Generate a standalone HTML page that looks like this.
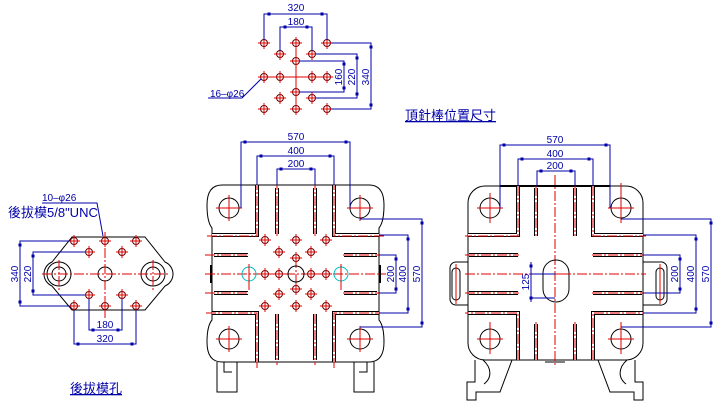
<!DOCTYPE html>
<html><head><meta charset="utf-8"><style>
html,body{margin:0;padding:0;background:#fff;width:721px;height:412px;overflow:hidden}
svg{display:block}
.b{stroke:#0000a8;fill:none;stroke-width:1}
.k{stroke:#000;fill:none;stroke-width:1}
.r{stroke:#e00000;fill:none;stroke-width:1}
.rd{stroke:#e00000;fill:none;stroke-width:1;stroke-dasharray:10,2,2,2}
.t{font-family:"Liberation Sans Narrow","Liberation Sans",sans-serif;font-size:10px;fill:#0000a8}
.c{font-family:"Liberation Sans","Noto Sans CJK TC",sans-serif;fill:#0000a8}
.s1{stroke:#000;stroke-width:4;fill:none}
.s2{stroke:#fff;stroke-width:2;fill:none}
</style></head><body>
<svg width="721" height="412" viewBox="0 0 721 412" xmlns="http://www.w3.org/2000/svg">
<defs>
<g id="h"><circle r="3.5" fill="none" stroke="#600"/><path d="M-6,0H6M0,-6V6" stroke="#e00000"/></g>
<rect id="m" x="-1.5" y="-1.5" width="3" height="3" fill="#0000a8"/>
</defs>

<!-- TOP PATTERN -->
<path class="r" d="M296,43V109M264,77H327"/>
<g>
<use href="#h" x="264" y="43"/><use href="#h" x="296" y="43"/><use href="#h" x="327" y="43"/>
<use href="#h" x="280" y="54"/><use href="#h" x="312" y="54"/><use href="#h" x="296" y="61"/>
<use href="#h" x="264" y="77"/><use href="#h" x="280" y="77"/><use href="#h" x="312" y="77"/><use href="#h" x="327" y="77"/>
<use href="#h" x="296" y="92"/><use href="#h" x="280" y="98"/><use href="#h" x="312" y="98"/>
<use href="#h" x="264" y="109"/><use href="#h" x="296" y="109"/><use href="#h" x="327" y="109"/>
</g>
<path class="b" d="M264,40V14H327V40M280,51V27H312V51"/>
<use href="#m" x="269" y="14"/><use href="#m" x="322" y="14"/><use href="#m" x="285" y="27"/><use href="#m" x="307" y="27"/>
<text class="t" x="296" y="11" text-anchor="middle">320</text>
<text class="t" x="296" y="25" text-anchor="middle">180</text>
<path class="b" d="M300,61H344V92H300M316,54H357V98H316M331,43H371V109H331"/>
<use href="#m" x="344" y="64"/><use href="#m" x="344" y="88"/><use href="#m" x="357" y="58"/><use href="#m" x="357" y="94"/><use href="#m" x="371" y="47"/><use href="#m" x="371" y="105"/>
<text class="t" transform="translate(342,77) rotate(-90)" text-anchor="middle">160</text>
<text class="t" transform="translate(355,77) rotate(-90)" text-anchor="middle">220</text>
<text class="t" transform="translate(369,77) rotate(-90)" text-anchor="middle">340</text>
<path class="b" d="M261,79L242,98H208"/>
<text class="t" x="210" y="97">16–φ26</text>
<text class="c" x="405" y="120" font-size="13" text-decoration="underline">頂針棒位置尺寸</text>

<!-- LEFT PATTERN -->
<path class="k" d="M72,237H145L165,262A13,13 0 0 1 165,286L145,310H72L52,286A13,13 0 0 1 52,262Z"/>
<circle class="k" cx="59" cy="274" r="12"/><circle class="k" cx="59" cy="274" r="7"/>
<circle class="k" cx="153" cy="274" r="12"/><circle class="k" cx="153" cy="274" r="7"/>
<circle class="k" cx="105" cy="274" r="7"/>
<path class="rd" d="M42,274H168M105,232V318M59,260V290M153,260V290"/>
<use href="#h" x="74" y="241"/><use href="#h" x="105" y="241"/><use href="#h" x="136" y="241"/>
<use href="#h" x="89" y="252"/><use href="#h" x="122" y="252"/>
<use href="#h" x="89" y="295"/><use href="#h" x="122" y="295"/>
<use href="#h" x="74" y="306"/><use href="#h" x="105" y="306"/><use href="#h" x="136" y="306"/>
<path class="b" d="M70,241H20V306H70M85,252H33V295H85M89,299V330H122V299M74,310V344H136V310"/>
<use href="#m" x="20" y="245"/><use href="#m" x="20" y="302"/><use href="#m" x="33" y="256"/><use href="#m" x="33" y="291"/>
<use href="#m" x="93" y="330"/><use href="#m" x="118" y="330"/><use href="#m" x="78" y="344"/><use href="#m" x="132" y="344"/>
<text class="t" transform="translate(18,274) rotate(-90)" text-anchor="middle">340</text>
<text class="t" transform="translate(31,274) rotate(-90)" text-anchor="middle">220</text>
<text class="t" x="105" y="328" text-anchor="middle">180</text>
<text class="t" x="105" y="342" text-anchor="middle">320</text>
<path class="b" d="M42,203H97L103,236"/>
<text class="t" x="42" y="201">10–φ26</text>
<text class="c" x="8" y="217" font-size="13">後拔模5/8"UNC</text>
<text class="c" x="70" y="393" font-size="13" text-decoration="underline">後拔模孔</text>

<!-- MIDDLE PLATE -->
<path class="k" d="M222,185H369Q384,185 384,205Q384,222 379,228V320Q384,326 384,342Q384,362 369,362H222Q207,362 207,342Q207,326 212,320V228Q207,222 207,205Q207,185 222,185Z"/>
<path stroke="#000" stroke-width="2" d="M211,265V283M380,265V283"/>
<g>
<path class="s1" d="M257,185V235H212M334,185V235H379M257,362V313H212M334,362V313H379M277,188V234M315,188V234M277,314V360M315,314V360M214,255H248M344,255H377M214,293H248M344,293H377"/>
<path class="s2" d="M257,185V235H212M334,185V235H379M257,362V313H212M334,362V313H379M277,188V234M315,188V234M277,314V360M315,314V360M214,255H248M344,255H377M214,293H248M344,293H377"/>
</g>
<path class="rd" d="M257,180V236H205M334,180V236H386M257,368V313H205M334,368V313H386M277,180V236M315,180V236M277,314V365M315,314V365M205,255H249M343,255H386M205,293H249M343,293H386M205,274H386M296,258V290"/>
<g>
<circle class="k" cx="229" cy="208" r="10"/><circle class="k" cx="360" cy="208" r="10"/><circle class="k" cx="229" cy="339" r="10"/><circle class="k" cx="360" cy="339" r="10"/>
<path class="r" d="M216,208H242M229,195V221M347,208H373M360,195V221M216,339H242M229,326V352M347,339H373M360,326V352"/>
</g>
<circle class="k" cx="296" cy="274" r="8"/>
<circle fill="none" stroke="#00c0c0" cx="249" cy="274" r="7"/><circle fill="none" stroke="#00c0c0" cx="341" cy="274" r="7"/>
<path class="r" d="M249,264V290M341,264V290"/>
<use href="#h" x="265" y="240"/><use href="#h" x="296" y="240"/><use href="#h" x="326" y="240"/>
<use href="#h" x="279" y="252"/><use href="#h" x="311" y="252"/><use href="#h" x="296" y="258"/>
<use href="#h" x="265" y="274"/><use href="#h" x="279" y="274"/><use href="#h" x="311" y="274"/><use href="#h" x="326" y="274"/>
<use href="#h" x="296" y="289"/><use href="#h" x="279" y="294"/><use href="#h" x="311" y="294"/>
<use href="#h" x="265" y="306"/><use href="#h" x="296" y="306"/><use href="#h" x="326" y="306"/>
<path class="k" d="M217,362V392H237V362M224,362V372H232M354,362V392H374V362M359,372H367V362"/>
<path class="b" d="M241,208V142H350V208M257,185V156H334V185M277,185V169H315V185"/>
<use href="#m" x="245" y="142"/><use href="#m" x="346" y="142"/><use href="#m" x="261" y="156"/><use href="#m" x="330" y="156"/><use href="#m" x="281" y="169"/><use href="#m" x="311" y="169"/>
<text class="t" x="296" y="140" text-anchor="middle">570</text>
<text class="t" x="296" y="154" text-anchor="middle">400</text>
<text class="t" x="296" y="167" text-anchor="middle">200</text>
<path class="b" d="M360,219H422V327H360M379,235H408V313H379M379,255H396V293H379"/>
<use href="#m" x="422" y="223"/><use href="#m" x="422" y="323"/><use href="#m" x="408" y="239"/><use href="#m" x="408" y="309"/><use href="#m" x="396" y="259"/><use href="#m" x="396" y="289"/>
<text class="t" transform="translate(420,274) rotate(-90)" text-anchor="middle">570</text>
<text class="t" transform="translate(406,274) rotate(-90)" text-anchor="middle">400</text>
<text class="t" transform="translate(394,274) rotate(-90)" text-anchor="middle">200</text>

<!-- RIGHT PLATE -->
<path class="k" d="M485,186H626A17,17 0 0 1 643,203V343A17,17 0 0 1 626,360H485A17,17 0 0 1 468,343V203A17,17 0 0 1 485,186Z"/>
<path stroke="#000" stroke-width="2" d="M500,186H610"/>
<path class="k" d="M468,262H456A6,6 0 0 0 450,268V299A6,6 0 0 0 456,305H468M643,262H660A6,6 0 0 1 667,268V299A6,6 0 0 1 660,305H643"/>
<rect class="k" x="452" y="268" width="8" height="32" rx="4"/><rect class="k" x="656" y="268" width="8" height="32" rx="4"/>
<path class="r" d="M456,264V304M660,264V304"/>
<g>
<path class="s1" d="M518,186V235H468M593,186V235H643M518,360V313H468M593,360V313H643M536,188V236M575,188V236M536,324V360M575,324V360M469,255H518M593,255H642M469,293H518M593,293H642"/>
<path class="s2" d="M518,186V235H468M593,186V235H643M518,360V313H468M593,360V313H643M536,188V236M575,188V236M536,324V360M575,324V360M469,255H518M593,255H642M469,293H518M593,293H642"/>
</g>
<path class="rd" d="M518,186V236H465M593,186V236H646M518,360V313H465M593,360V313H646M536,186V236M575,186V236M536,322V360M575,322V360M465,255H519M592,255H646M465,293H519M592,293H646M465,274H646M555,175V365"/>
<rect class="k" x="543" y="260" width="26" height="42" rx="13"/>
<path class="r" d="M530,274H570"/>
<g>
<circle class="k" cx="490" cy="208" r="10"/><circle class="k" cx="621" cy="208" r="10"/><circle class="k" cx="490" cy="339" r="10"/><circle class="k" cx="621" cy="339" r="10"/>
<path class="r" d="M477,208H503M490,193V223M608,208H634M621,183V223M477,339H503M490,322V354M608,339H634M621,322V354"/>
</g>
<path class="k" d="M475,360V382H467V400H476V392H500L512,360M483,360C492,368 492,378 484,384"/>
<path class="k" d="M635,360V382H643V400H634V392H610L598,360M627,360C618,368 618,378 626,384"/>
<path class="k" d="M545,362H565"/>
<path class="b" d="M500,208V145H610V208M518,186V159H593V186M537,186V171H575V186"/>
<use href="#m" x="504" y="145"/><use href="#m" x="606" y="145"/><use href="#m" x="522" y="159"/><use href="#m" x="589" y="159"/><use href="#m" x="541" y="171"/><use href="#m" x="571" y="171"/>
<text class="t" x="555" y="143" text-anchor="middle">570</text>
<text class="t" x="555" y="157" text-anchor="middle">400</text>
<text class="t" x="555" y="169" text-anchor="middle">200</text>
<path class="b" d="M621,219H711V327H621M643,235H696V313H643M643,255H680V293H643"/>
<use href="#m" x="711" y="223"/><use href="#m" x="711" y="323"/><use href="#m" x="696" y="239"/><use href="#m" x="696" y="309"/><use href="#m" x="680" y="259"/><use href="#m" x="680" y="289"/>
<text class="t" transform="translate(709,274) rotate(-90)" text-anchor="middle">570</text>
<text class="t" transform="translate(694,274) rotate(-90)" text-anchor="middle">400</text>
<text class="t" transform="translate(678,274) rotate(-90)" text-anchor="middle">200</text>
<path class="b" d="M555,274H531M531,262V302M555,298H531"/>
<use href="#m" x="531" y="266"/><use href="#m" x="531" y="298"/>
<text class="t" transform="translate(529,282) rotate(-90)" text-anchor="middle">125</text>
</svg>
</body></html>
